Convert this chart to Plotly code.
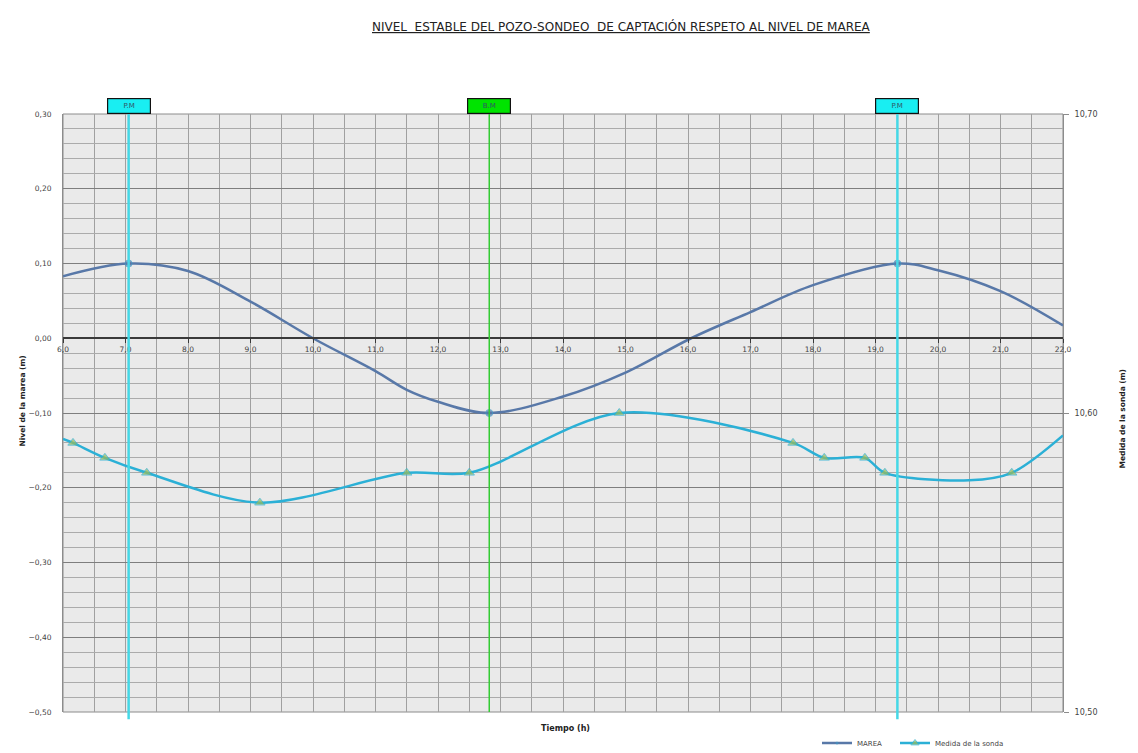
import plotly.graph_objects as go

# ---- data ----
marea_t = [6.0, 7.05, 8.0, 9.0, 10.0, 11.0, 11.5, 12.0, 12.82, 14.0, 15.0, 16.05, 17.0, 18.0, 19.35, 20.0, 21.0, 22.0]
marea_v = [0.083, 0.10, 0.090, 0.049, 0.0, -0.044, -0.069, -0.085, -0.10, -0.078, -0.046, 0.0, 0.035, 0.071, 0.10, 0.091, 0.063, 0.017]
marea_marker = [0, 1, 0, 0, 0, 0, 0, 0, 1, 0, 0, 0, 0, 0, 1, 0, 0, 0]

sonda_t = [6.0, 6.16, 6.67, 7.34, 9.15, 11.5, 12.5, 14.9, 17.68, 18.18, 18.83, 19.15, 20.5, 21.18, 22.0]
sonda_v = [10.5913, 10.59, 10.585, 10.58, 10.57, 10.58, 10.58, 10.60, 10.59, 10.585, 10.585, 10.58, 10.5775, 10.58, 10.5925]
sonda_marker = [0, 1, 1, 1, 1, 1, 1, 1, 1, 1, 1, 1, 0, 1, 0]

tide_events_t = [7.05, 12.82, 19.35]
tide_events_lbl = ["P.M", "B.M", "P.M"]

left_range = [-0.5, 0.3]
right_range = [10.5, 10.7]
x_range = [6.0, 22.0]

title = "NIVEL  ESTABLE DEL POZO-SONDEO  DE CAPTACIÓN RESPETO AL NIVEL DE MAREA"

FONT = "DejaVu Sans"
c_marea = "#5878A8"
c_sonda = "#2BB0D6"
c_sonda_mk = "#9BBB59"
ev_line = {"P.M": "#45D8E6", "B.M": "#33CC33"}
ev_fill = {"P.M": "#19EEF2", "B.M": "#00E400"}

fig = go.Figure()
fig.add_trace(go.Scatter(
    x=marea_t, y=marea_v, name="MAREA", mode="lines+markers",
    line=dict(color=c_marea, width=2.5, shape="spline", smoothing=1.0),
    marker=dict(symbol="circle", size=[7 * m for m in marea_marker], color=c_marea,
                line=dict(color="#3E9CC8", width=1)),
    yaxis="y", xaxis="x", legend="legend"))
fig.add_trace(go.Scatter(
    x=sonda_t, y=sonda_v, name="Medida de la sonda", mode="lines+markers",
    line=dict(color=c_sonda, width=2.5, shape="spline", smoothing=0.9),
    marker=dict(symbol="triangle-up", size=[9 * m for m in sonda_marker], color=c_sonda_mk),
    yaxis="y2", xaxis="x", legend="legend2"))

shapes = []
annotations = []
for t, lbl in zip(tide_events_t, tide_events_lbl):
    shapes.append(dict(type="line", xref="x", yref="paper", x0=t, x1=t,
                       y0=-0.012 if lbl == "P.M" else 0.0, y1=1.0,
                       line=dict(color=ev_line[lbl], width=2.5 if lbl == "P.M" else 1.5),
                       layer="above"))
    annotations.append(dict(x=t, y=1.0, xref="x", yref="paper", yanchor="bottom",
                            text=lbl, showarrow=False, bgcolor=ev_fill[lbl],
                            bordercolor="#111111", borderwidth=1.2, width=42, height=14,
                            borderpad=0, font=dict(family=FONT, size=7, color="#335566")))

shapes.append(dict(type="rect", xref="paper", yref="paper", x0=0, x1=1, y0=0, y1=1,
                   line=dict(color="#8C8C8C", width=1), layer="below"))

annotations += [
    dict(x=0.558, y=1.162, xref="paper", yref="paper", text="<u>" + title + "</u>",
         showarrow=False, font=dict(family=FONT, size=12, color="#222222")),
    dict(x=-0.047, y=0.52, xref="paper", yref="paper", text="<b>Nivel de la marea (m)</b>",
         textangle=-90, showarrow=False, font=dict(family=FONT, size=7.5, color="#222222")),
    dict(x=1.066, y=0.49, xref="paper", yref="paper", text="<b>Medida de la sonda (m)</b>",
         textangle=-90, showarrow=False, font=dict(family=FONT, size=7.5, color="#222222")),
    dict(x=0.502, y=-0.038, xref="paper", yref="paper", text="<b>Tiempo (h)</b>",
         showarrow=False, font=dict(family=FONT, size=8, color="#222222")),
]

zero_pos = (0 - left_range[0]) / (left_range[1] - left_range[0])

legend_style = dict(orientation="h", y=-0.052, xanchor="left", yanchor="middle",
                    font=dict(family=FONT, size=7, color="#444444"),
                    bgcolor="rgba(0,0,0,0)", itemwidth=30)

# page body has an 8px margin: figure is sized so the plot lands on the reference pixels
fig.update_layout(
    width=1130, height=745,
    margin=dict(l=55, r=75, t=106, b=41, autoexpand=False),
    paper_bgcolor="white", plot_bgcolor="#EAEAEA",
    separators=",.",
    font=dict(family=FONT, size=8, color="#444444"),
    showlegend=True,
    legend=dict(x=0.754, **legend_style),
    legend2=dict(x=0.832, **legend_style),
    xaxis=dict(range=x_range, tick0=6, dtick=1, tickformat=".1f",
               showgrid=True, gridcolor="#A0A0A0", gridwidth=1,
               minor=dict(dtick=0.5, showgrid=True, gridcolor="#A0A0A0", gridwidth=1),
               anchor="free", position=zero_pos,
               showline=True, linecolor="#3A3A3A", linewidth=2,
               ticks="outside", ticklen=4, tickcolor="#3A3A3A",
               tickfont=dict(family=FONT, size=7.5, color="#444444"),
               zeroline=False),
    yaxis=dict(range=left_range, tick0=0, dtick=0.1, tickformat=".2f",
               showgrid=True, gridcolor="#7E7E7E", gridwidth=1,
               minor=dict(dtick=0.02, showgrid=True, gridcolor="#ABABAB", gridwidth=1),
               zeroline=False, showline=True, linecolor="#8C8C8C",
               ticks="outside", ticklen=9, tickcolor="rgba(0,0,0,0)",
               tickfont=dict(family=FONT, size=7.5, color="#444444")),
    yaxis2=dict(range=right_range, dtick=0.1, tick0=10.5, tickformat=".2f",
                overlaying="y", side="right", showgrid=False, zeroline=False,
                showline=True, linecolor="#8C8C8C", ticks="outside", ticklen=5,
                tickcolor="#8C8C8C", ticklabelstandoff=4,
                tickfont=dict(family=FONT, size=8, color="#444444")),
    shapes=shapes,
    annotations=annotations,
)

fig.write_html("out.html")
